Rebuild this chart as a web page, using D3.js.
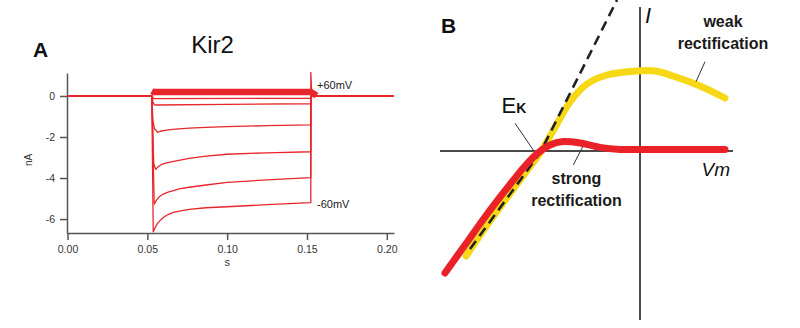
<!DOCTYPE html>
<html><head><meta charset="utf-8">
<script src="https://cdn.jsdelivr.net/npm/d3@7"></script>
<style>
html,body{margin:0;padding:0;background:#fff;}
svg{display:block;font-family:"Liberation Sans",Arial,sans-serif;}
</style></head>
<body><svg id="c" width="800" height="328"></svg>
<script>
// ---------- Panel A data (time in s, current in nA) ----------
const xTicksA = [0, 0.05, 0.10, 0.15, 0.20];
const yTicksA = [0, -2, -4, -6];
const stepLabels = ["+60mV", "-60mV"];
const trace_m60 = [[0,0],[0.0528,0],[0.0537,-6.62],[0.0550,-6.40],[0.0564,-6.21],[0.0585,-6.03],[0.0606,-5.89],[0.0630,-5.78],[0.0658,-5.69],[0.0700,-5.61],[0.0762,-5.53],[0.0867,-5.45],[0.1000,-5.40],[0.1250,-5.30],[0.1524,-5.20],[0.1524,1.15],[0.1530,0],[0.2045,0]];
const trace_m40 = [[0,0],[0.0528,0],[0.0543,-5.27],[0.0555,-5.10],[0.0575,-4.91],[0.0600,-4.78],[0.0630,-4.69],[0.0658,-4.63],[0.0700,-4.53],[0.0762,-4.45],[0.0867,-4.34],[0.1000,-4.21],[0.1250,-4.09],[0.1524,-3.98],[0.1524,0],[0.2045,0]];
const trace_m20 = [[0,0],[0.0528,0],[0.0540,-3.30],[0.0553,-3.58],[0.0565,-3.47],[0.0590,-3.33],[0.0620,-3.26],[0.0658,-3.20],[0.0762,-3.04],[0.0867,-2.93],[0.1000,-2.84],[0.1250,-2.77],[0.1524,-2.72],[0.1524,0],[0.2045,0]];
const trace_0 = [[0,0],[0.0528,0],[0.0535,-1.20],[0.0545,-1.60],[0.0564,-1.77],[0.0580,-1.72],[0.0620,-1.66],[0.0658,-1.63],[0.0762,-1.57],[0.0867,-1.53],[0.1000,-1.49],[0.1250,-1.45],[0.1524,-1.41],[0.1524,0],[0.2045,0]];
const trace_p20 = [[0,0],[0.0528,0],[0.0535,-0.30],[0.0545,-0.44],[0.1000,-0.41],[0.1524,-0.38],[0.1524,0],[0.2045,0]];
const trace_p40 = [[0,0],[0.0528,0],[0.0540,-0.13],[0.1524,-0.11],[0.1524,0],[0.2045,0]];
const trace_p60 = [[0.0528,0.24],[0.0540,0.19],[0.1524,0.19],[0.1545,0.10],[0.1560,0.02]];
const tracesA = [trace_p40, trace_p20, trace_0, trace_m20, trace_m40, trace_m60];

// ---------- Panel B data (Vm in mV, I in arbitrary units) ----------
const strongIV = [[-195,-6.1],[-175,-4.7],[-155,-3.3],[-132,-1.8],[-115,-0.75],[-102,-0.1],[-90,0.3],[-77,0.47],[-60,0.40],[-40,0.18],[-20,0.08],[20,0.08],[85,0.08]];
const weakIV = [[-174,-5.25],[-150,-3.5],[-120,-1.45],[-100,-0.1],[-87,1.0],[-70,2.45],[-53,3.35],[-33,3.8],[-3,4.0],[15,4.0],[33,3.75],[60,3.25],[85,2.65]];
const ohmicIV = [[-170,-4.9],[-100,-0.1],[-23,7.55]];

const svg = d3.select("#c");
svg.append("rect").attr("width",800).attr("height",328).attr("fill","#fff");

// ===== Panel A =====
const xA = d3.scaleLinear().domain([0, 0.2045]).range([67.5, 394]);
const yA = d3.scaleLinear().domain([-6.68, 1.12]).range([233, 73]);
const gA = svg.append("g");

const axX = gA.append("g").attr("transform","translate(0,233)")
  .call(d3.axisBottom(xA).tickValues(xTicksA).tickFormat(d3.format(".2f")).tickSize(7).tickSizeOuter(0).tickPadding(6));
const axY = gA.append("g").attr("transform","translate(67,0)")
  .call(d3.axisLeft(yA).tickValues(yTicksA).tickFormat(d => String(d)).tickSize(7).tickSizeOuter(0).tickPadding(5));
[axX, axY].forEach(a => {
  a.selectAll("path,line").attr("stroke","#555").attr("stroke-width",1.5);
  a.selectAll("text").attr("fill","#333").style("font-size","10.5px");
});
gA.append("text").attr("x", xA(0.1)).attr("y",266).attr("text-anchor","middle")
  .attr("fill","#333").style("font-size","11px").text("s");
gA.append("text").attr("transform","translate(31.5,160) rotate(-90)").attr("text-anchor","middle")
  .attr("fill","#333").style("font-size","10px").text("nA");

const lineA = d3.line().x(d => xA(d[0])).y(d => yA(d[1]));
gA.append("path").datum(trace_p60).attr("d", lineA).attr("fill","none")
  .attr("stroke","#e8262b").attr("stroke-width",6.5).attr("stroke-linecap","butt");
tracesA.forEach(t => {
  gA.append("path").datum(t).attr("d", lineA).attr("fill","none")
    .attr("stroke","#e8262b").attr("stroke-width",1.3).attr("stroke-linejoin","round");
});

gA.append("text").attr("x",317).attr("y",89).attr("fill","#222").style("font-size","11px").text(stepLabels[0]);
gA.append("text").attr("x",317).attr("y",208).attr("fill","#222").style("font-size","11px").text(stepLabels[1]);
gA.append("text").attr("x",212.5).attr("y",52.5).attr("text-anchor","middle").attr("fill","#111")
  .style("font-size","24px").text("Kir2");
gA.append("text").attr("x",33).attr("y",56.5).attr("fill","#111")
  .style("font-size","21px").style("font-weight","bold").text("A");

// ===== Panel B =====
const xB = d3.scaleLinear().domain([-200, 93]).range([440, 733]);
const yB = d3.scaleLinear().domain([-8.45, 7.2]).range([320, 7]);
const gB = svg.append("g");

gB.append("line").attr("x1", xB(-200)).attr("x2", xB(93)).attr("y1", yB(0)).attr("y2", yB(0))
  .attr("stroke","#4a4a4a").attr("stroke-width",2);
gB.append("line").attr("x1", xB(0)).attr("x2", xB(0)).attr("y1", yB(7.2)).attr("y2", yB(-8.45))
  .attr("stroke","#4a4a4a").attr("stroke-width",2);

const lineB = d3.line().x(d => xB(d[0])).y(d => yB(d[1])).curve(d3.curveCatmullRom.alpha(0.5));
gB.append("path").datum(weakIV).attr("d", lineB).attr("fill","none")
  .attr("stroke","#f6d816").attr("stroke-width",7).attr("stroke-linecap","round");
gB.append("path").datum(ohmicIV).attr("d", d3.line().x(d => xB(d[0])).y(d => yB(d[1])))
  .attr("fill","none").attr("stroke","#222").attr("stroke-width",2.6).attr("stroke-dasharray","10,6");
gB.append("path").datum(strongIV).attr("d", lineB).attr("fill","none")
  .attr("stroke","#ea2227").attr("stroke-width",7).attr("stroke-linecap","round");

// leader lines
const leaders = [[[696,81.7],[705,61.7]],[[515,123.3],[533.3,150]],[[573.3,165],[582.7,146.7]]];
leaders.forEach(l => gB.append("line").attr("x1",l[0][0]).attr("y1",l[0][1]).attr("x2",l[1][0]).attr("y2",l[1][1])
  .attr("stroke","#333").attr("stroke-width",1));

gB.append("text").attr("x",441).attr("y",33.3).attr("fill","#111")
  .style("font-size","21px").style("font-weight","bold").text("B");
gB.append("text").attr("x",645).attr("y",23.3).attr("fill","#111")
  .style("font-size","22px").style("font-style","italic").text("I");
const wk = gB.append("text").attr("text-anchor","middle").attr("fill","#1a1a1a")
  .style("font-size","16px").style("font-weight","bold");
wk.append("tspan").attr("x",723).attr("y",26.7).text("weak");
wk.append("tspan").attr("x",723).attr("y",49).text("rectification");
const st = gB.append("text").attr("text-anchor","middle").attr("fill","#1a1a1a")
  .style("font-size","16px").style("font-weight","bold");
st.append("tspan").attr("x",576.5).attr("y",184).text("strong");
st.append("tspan").attr("x",576.5).attr("y",205.5).text("rectification");
const ek = gB.append("text").attr("x",501.5).attr("y",112.7).attr("fill","#111").style("font-size","22px");
ek.append("tspan").text("E");
ek.append("tspan").style("font-size","14px").style("font-weight","bold").text("K");
const vm = gB.append("text").attr("x",701.5).attr("y",176).attr("fill","#111")
  .style("font-size","19px").style("font-style","italic");
vm.append("tspan").text("V");
vm.append("tspan").text("m");
</script></body></html>
